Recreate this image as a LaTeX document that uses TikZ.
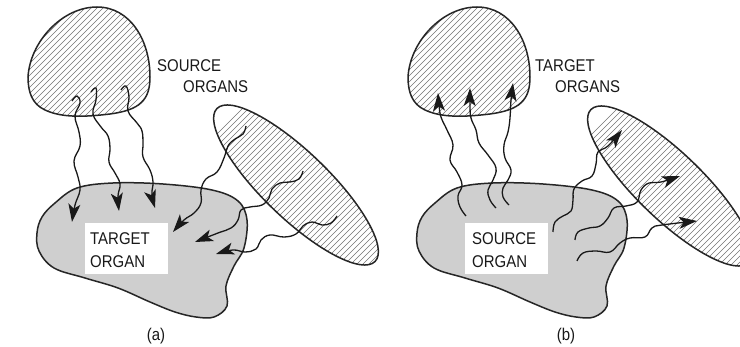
\documentclass[tikz,border=0pt]{standalone}
\usepackage{fontspec}
\setmainfont{Liberation Sans}[FakeStretch=0.88]
\usetikzlibrary{arrows.meta}
\begin{document}
\begin{tikzpicture}[x=1pt,y=-1pt,
  outline/.style={draw=black!85, line width=1.5pt},
  hatchline/.style={draw=black!55, line width=0.7pt},
  wave/.style={draw=black!90, line width=1.3pt, -{Stealth[length=18pt,width=12pt,inset=4.5pt]}},
  lbl/.style={font=\fontsize{17}{20}\selectfont, text=black!90, inner sep=0pt, anchor=base west},
  captxt/.style={font=\fontsize{17}{20}\selectfont, text=black!90, inner sep=0pt, anchor=base},
  whitebox/.style={fill=white, draw=none, anchor=north west, minimum width=83pt, minimum height=51pt, inner sep=0pt},
  topblob/.pic={
    \begin{scope}
      \clip (28,77) .. controls (30,42) and (62,7) .. (97,7) .. controls (130,7) and (150,40) .. (150,77) .. controls (150,100) and (140,110) .. (110,114) .. controls (85,117) and (62,118) .. (45,110) .. controls (32,104) and (28,92) .. (28,77) -- cycle;
      \foreach \k in {-110,-104,...,160} \draw[hatchline] (\k,125) -- ++(125,-125);
    \end{scope}
    \draw[outline] (28,77) .. controls (30,42) and (62,7) .. (97,7) .. controls (130,7) and (150,40) .. (150,77) .. controls (150,100) and (140,110) .. (110,114) .. controls (85,117) and (62,118) .. (45,110) .. controls (32,104) and (28,92) .. (28,77) -- cycle;
  },
  grayblob/.pic={
    \draw[outline, fill=black!19] plot[smooth cycle, tension=0.6] coordinates {(77,188) (113,183) (163,184) (212,190) (238,201) (247,220) (244,248) (234,266) (226,286) (227,306) (214,317) (196,317) (175,312) (150,302) (118,288) (85,278) (54,268) (39,251) (37,233) (42,217) (55,203)};
  },
  ellblob/.pic={
    \begin{scope}
      \clip[rotate=-44] (0,0) ellipse [x radius=110, y radius=33];
      \foreach \k in {-250,-244,...,130} \draw[hatchline] (\k,120) -- ++(240,-240);
    \end{scope}
    \draw[outline, rotate=-44] (0,0) ellipse [x radius=110, y radius=33];
  }
]
\useasboundingbox[fill=white] (0,0) rectangle (740,347);

% ---------------- panel (a)
\pic at (0,0) {topblob};
\pic at (0,0) {grayblob};
\pic at (296,185) {ellblob};
\node[whitebox] (boxa) at (85,223) {};
\node[lbl] (ta1) at (90,245) {TARGET};
\node[lbl] (ta2) at (90,268) {ORGAN};
\node[lbl] (sa1) at (157,72) {SOURCE};
\node[lbl] (sa2) at (183,93) {ORGANS};
\node[captxt] (capa) at (156,341) {(a)};

\draw[wave] plot[smooth, tension=0.7] coordinates {(72,101) (77,96) (80,103) (75,116) (79,132) (80,146) (74,161) (78,177) (80,190) (75,205) (72,222)};
\draw[wave] plot[smooth, tension=0.7] coordinates {(91,92) (96,88) (96,100) (93,114) (101,127) (108,136) (110,149) (109,162) (115,173) (120,184) (118,196) (119,211)};
\draw[wave] plot[smooth, tension=0.7] coordinates {(121,90) (126,86) (129,97) (128,111) (137,123) (142,131) (143,144) (143,157) (150,170) (153,182) (152,194) (155,208)};
\draw[wave] plot[smooth, tension=0.7] coordinates {(246,126) (243,134) (235,139) (228,146) (224,158) (217,172) (206,179) (201,190) (201,203) (194,213) (184,220) (173,232)};
\draw[wave] plot[smooth, tension=0.7] coordinates {(303,171) (299,179) (290,182) (280,183) (272,189) (269,198) (262,205) (250,207) (241,210) (238,220) (231,228) (218,233) (195,242)};
\draw[wave] plot[smooth, tension=0.7] coordinates {(337,216) (331,223) (322,225) (312,222) (303,226) (296,234) (284,237) (270,235) (261,240) (256,249) (245,252) (233,250) (216,254)};

% ---------------- panel (b)
\pic at (380,0) {topblob};
\pic at (380,0) {grayblob};
\pic at (670,186) {ellblob};
\node[whitebox] (boxb) at (465,223) {};
\node[lbl] (tb1) at (472,245) {SOURCE};
\node[lbl] (tb2) at (472,268) {ORGAN};
\node[lbl] (sb1) at (535,72) {TARGET};
\node[lbl] (sb2) at (555,93) {ORGANS};
\node[captxt] (capb) at (566,341) {(b)};

\draw[wave] plot[smooth, tension=0.7] coordinates {(466,216) (460,207) (458,196) (462,185) (457,172) (450,160) (453,145) (447,130) (441,117) (439,105) (438,93)};
\draw[wave] plot[smooth, tension=0.7] coordinates {(496,208) (490,200) (488,190) (493,180) (496,168) (488,155) (479,143) (476,130) (471,118) (470,105) (470,88)};
\draw[wave] plot[smooth, tension=0.7] coordinates {(509,205) (503,197) (503,188) (508,180) (511,170) (505,158) (504,145) (508,132) (510,118) (511,100) (513,83)};
\draw[wave] plot[smooth, tension=0.7] coordinates {(553,232) (555,222) (563,216) (571,211) (573,200) (574,189) (582,181) (592,176) (596,164) (598,152) (608,146) (622,130)};
\draw[wave] plot[smooth, tension=0.7] coordinates {(575,240) (578,232) (589,228) (600,226) (608,218) (614,208) (626,206) (637,202) (641,190) (649,183) (661,182) (680,176)};
\draw[wave] plot[smooth, tension=0.7] coordinates {(577,261) (583,253) (596,251) (610,252) (620,243) (630,238) (645,237) (652,228) (662,225) (697,221)};
\end{tikzpicture}
\end{document}
